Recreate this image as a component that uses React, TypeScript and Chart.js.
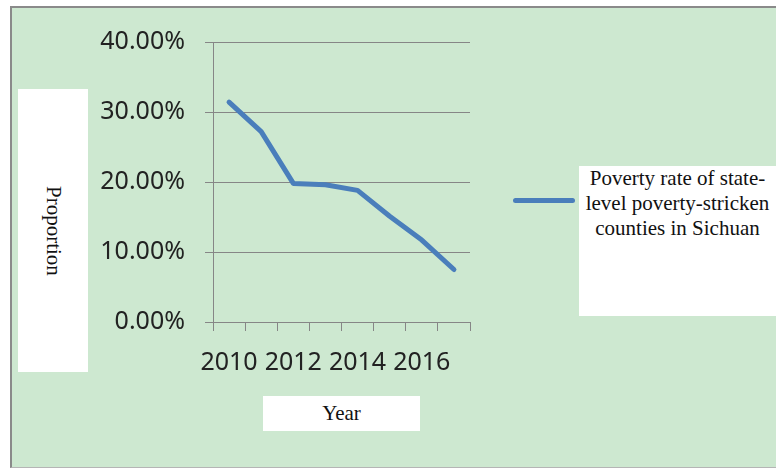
import React, { useEffect, useRef } from "react";
import { Chart, registerables } from "chart.js";

Chart.register(...registerables);

const years = ["2010", "2011", "2012", "2013", "2014", "2015", "2016", "2017"];
const povertyRate = [31.4, 27.2, 19.8, 19.6, 18.8, 15.1, 11.7, 7.5];
const seriesLabelLines = ["Poverty rate of state-", "level poverty-stricken", "counties in Sichuan"];
const yTitle = "Proportion";
const xTitle = "Year";
const yMin = 0;
const yMax = 40;
const yStep = 10;

const LINE_COLOR = "#4a7ebb";
const GRID_COLOR = "#868686";
const BG = "#cde8d0";
const SERIF = "'Liberation Serif', 'Times New Roman', serif";

export default function App() {
  const canvasRef = useRef<HTMLCanvasElement | null>(null);

  useEffect(() => {
    const canvas = canvasRef.current;
    if (!canvas) return;
    const chart = new Chart(canvas, {
      type: "line",
      data: {
        labels: years,
        datasets: [
          {
            label: seriesLabelLines.join(" "),
            data: povertyRate,
            borderColor: LINE_COLOR,
            backgroundColor: LINE_COLOR,
            borderWidth: 5,
            pointRadius: 0,
            tension: 0,
            borderCapStyle: "round",
            borderJoinStyle: "round",
            fill: false,
          },
        ],
      },
      options: {
        responsive: false,
        animation: false,
        devicePixelRatio: 1,
        layout: { padding: { left: 0, right: 306, top: 42, bottom: 88 } },
        plugins: {
          legend: { display: false },
          tooltip: { enabled: false },
          title: { display: false },
        },
        scales: {
          x: {
            type: "category",
            offset: true,
            grid: {
              display: true,
              drawOnChartArea: false,
              drawTicks: true,
              tickLength: 9,
              offset: true,
              color: GRID_COLOR,
            },
            border: { display: true, color: GRID_COLOR },
            ticks: {
              autoSkip: false,
              maxRotation: 0,
              minRotation: 0,
              padding: 17,
              color: "#222222",
              font: { family: "'Noto Sans', sans-serif", size: 25 },
              callback: function (_v: any, idx: number) {
                return idx % 2 === 0 ? years[idx] : "";
              },
            },
            afterFit: (scale: any) => {
              scale.height = 60;
            },
          },
          y: {
            min: yMin,
            max: yMax,
            grid: {
              color: GRID_COLOR,
              drawTicks: true,
              tickLength: 8,
            },
            border: { display: true, color: GRID_COLOR },
            ticks: {
              stepSize: yStep,
              padding: 20,
              color: "#222222",
              font: { family: "'Noto Sans', sans-serif", size: 25 },
              callback: (v: any) => Number(v).toFixed(2) + "%",
            },
            afterFit: (scale: any) => {
              scale.width = 213;
            },
          },
        },
      },
    });
    return () => chart.destroy();
  }, []);

  return (
    <div
      style={{
        position: "fixed",
        left: 0,
        top: 0,
        width: 776,
        height: 470,
        overflow: "hidden",
        background: "#ffffff",
      }}
    >
      <div
        style={{
          position: "absolute",
          left: 10,
          top: 6,
          width: 820,
          height: 462,
          boxSizing: "border-box",
          background: BG,
          borderTop: "2px solid #8a8a8a",
          borderLeft: "2px solid #8a8a8a",
          borderBottom: "1px solid #b5b5b5",
        }}
      />
      <canvas
        ref={canvasRef}
        width={776}
        height={470}
        style={{ position: "absolute", left: 0, top: 0, width: 776, height: 470 }}
      />
      {/* y axis title box */}
      <div
        style={{
          position: "absolute",
          left: 18,
          top: 89,
          width: 70,
          height: 283,
          background: "#ffffff",
          display: "flex",
          alignItems: "center",
          justifyContent: "center",
        }}
      >
        <div
          style={{
            writingMode: "vertical-rl",
            fontFamily: SERIF,
            fontSize: 21,
            color: "#111",
          }}
        >
          {yTitle}
        </div>
      </div>
      {/* x axis title box */}
      <div
        style={{
          position: "absolute",
          left: 263,
          top: 396,
          width: 157,
          height: 35,
          background: "#ffffff",
          display: "flex",
          alignItems: "center",
          justifyContent: "center",
          fontFamily: SERIF,
          fontSize: 21,
          color: "#111",
        }}
      >
        {xTitle}
      </div>
      {/* legend swatch */}
      <div
        style={{
          position: "absolute",
          left: 513,
          top: 198,
          width: 62,
          height: 5,
          borderRadius: 3,
          background: LINE_COLOR,
        }}
      />
      {/* legend box */}
      <div
        style={{
          position: "absolute",
          left: 579,
          top: 166,
          width: 220,
          height: 150,
          background: "#ffffff",
        }}
      >
        <div
          style={{
            width: 197,
            textAlign: "center",
            fontFamily: SERIF,
            fontSize: 21,
            lineHeight: "25px",
            color: "#111",
            whiteSpace: "nowrap",
          }}
        >
          {seriesLabelLines.map((l, i) => (
            <div key={i}>{l}</div>
          ))}
        </div>
      </div>
    </div>
  );
}
